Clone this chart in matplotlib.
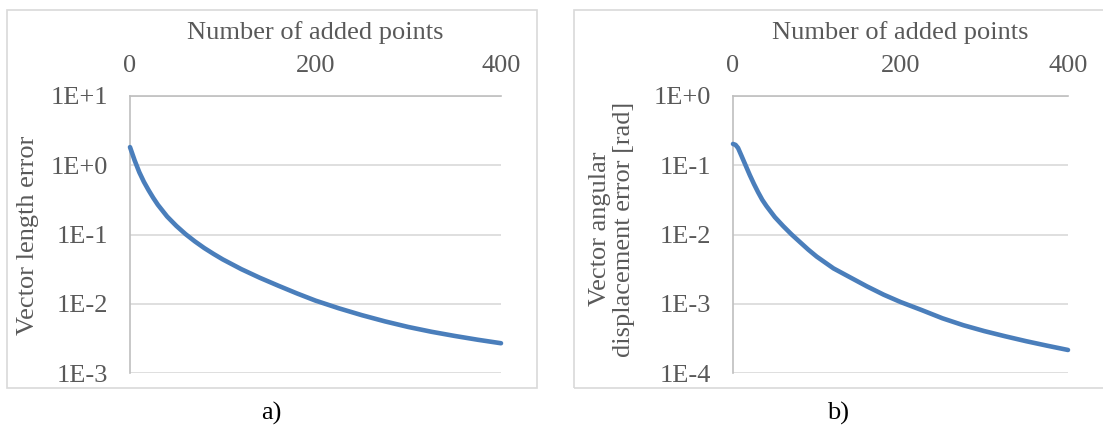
import matplotlib
matplotlib.use("Agg")
import matplotlib.pyplot as plt
from matplotlib.patches import Rectangle
from matplotlib.ticker import FixedLocator, NullLocator

# ---- data ----
x_len = [0, 5, 10, 15, 20, 25, 30, 40, 50, 60, 70, 80, 90, 100, 120, 140, 160,
         180, 200, 225, 250, 275, 300, 325, 350, 375, 400]
len_err = [1.828, 1.175, 0.794, 0.575, 0.437, 0.339, 0.269, 0.182, 0.133, 0.101,
           0.0794, 0.0638, 0.0525, 0.0437, 0.0316, 0.0237, 0.0182, 0.0141,
           0.0111, 0.00861, 0.00684, 0.00556, 0.00462, 0.00394, 0.00343,
           0.00302, 0.00269]

x_ang = [0, 3, 6, 10, 15, 20, 25, 30, 35, 40, 50, 60, 70, 80, 90, 100, 120, 140,
         160, 180, 200, 225, 250, 275, 300, 325, 350, 375, 400]
ang_err = [0.203, 0.197, 0.178, 0.138, 0.100, 0.0724, 0.0537, 0.0407, 0.0316,
           0.0257, 0.0178, 0.0132, 0.0100, 0.00776, 0.00603, 0.00479, 0.00324,
           0.00240, 0.00178, 0.00135, 0.00106, 0.000813, 0.000617, 0.000490,
           0.000403, 0.000339, 0.000288, 0.000248, 0.000215]

x_ticks = [0, 200, 400]
x_tick_labels = ["0", "200", "400"]
y_ticks_a = [1e1, 1e0, 1e-1, 1e-2, 1e-3]
y_labels_a = ["1E+1", "1E+0", "1E-1", "1E-2", "1E-3"]
y_ticks_b = [1e0, 1e-1, 1e-2, 1e-3, 1e-4]
y_labels_b = ["1E+0", "1E-1", "1E-2", "1E-3", "1E-4"]

x_title = "Number of added points"
y_title_a = "Vector length error"
y_title_b = "Vector angular\ndisplacement error [rad]"
captions = ["a)", "b)"]

# ---- styling ----
plt.rcParams['font.family'] = ['Liberation Serif', 'DejaVu Serif']
W, H = 1103, 430
DPI = 100
FS = 19
TXT = "#595959"
GRID = "#d9d9d9"
AXIS = "#bfbfbf"
LINE = "#4A7EBB"

fig = plt.figure(figsize=(W / DPI, H / DPI), dpi=DPI)


def px_box(x0, y0, x1, y1):
    return [x0 / W, 1 - y1 / H, (x1 - x0) / W, (y1 - y0) / H]


# panel frames
for (fx0, fy0, fx1, fy1) in [(7, 10, 537, 388), (574, 10, 1110, 388)]:
    fig.patches.append(Rectangle((fx0 / W, 1 - fy1 / H), (fx1 - fx0) / W,
                                 (fy1 - fy0) / H, transform=fig.transFigure,
                                 fill=False, edgecolor=GRID, linewidth=1.2))


def make_panel(box, xs, ys, yticks, ylabels, ytitle, ylabel_x, ylabel_y):
    ax = fig.add_axes(px_box(*box))
    ax.plot(xs, ys, color=LINE, linewidth=3.3, solid_capstyle='round',
            solid_joinstyle='round', clip_on=False, zorder=3)
    ax.set_yscale('log')
    ax.set_xlim(0, 400)
    ax.set_ylim(min(yticks), max(yticks))
    ax.yaxis.set_major_locator(FixedLocator(yticks))
    ax.yaxis.set_minor_locator(NullLocator())
    ax.set_yticklabels(ylabels)
    ax.set_xticks(x_ticks)
    ax.set_xticklabels(x_tick_labels)
    ax.xaxis.tick_top()
    ax.tick_params(axis='both', length=0, labelsize=FS, labelcolor=TXT)
    ax.tick_params(axis='x', pad=14)
    ax.tick_params(axis='y', pad=16)
    ax.grid(axis='y', color=GRID, linewidth=1.2)
    ax.set_axisbelow(True)
    for s in ['right', 'bottom']:
        ax.spines[s].set_visible(False)
    for s in ['left', 'top']:
        ax.spines[s].set_color(AXIS)
        ax.spines[s].set_linewidth(1.2)
    x0, y0, x1, y1 = box
    fig.text(((x0 + x1) / 2) / W, 1 - 33 / H, x_title, ha='center', va='center',
             fontsize=FS, color=TXT)
    fig.text(ylabel_x / W, 1 - ylabel_y / H, ytitle, ha='center', va='center',
             rotation=90, fontsize=FS, color=TXT, linespacing=1.1,
             multialignment='center')
    return ax


make_panel((130, 96, 501, 373), x_len, len_err, y_ticks_a, y_labels_a,
           y_title_a, 28, 235)
make_panel((733, 96, 1068, 373), x_ang, ang_err, y_ticks_b, y_labels_b,
           y_title_b, 612, 229)

fig.text(271 / W, 1 - 413 / H, captions[0], ha='center', va='center',
         fontsize=FS, color='black')
fig.text(838 / W, 1 - 413 / H, captions[1], ha='center', va='center',
         fontsize=FS, color='black')

fig.savefig("out.png", dpi=DPI)
